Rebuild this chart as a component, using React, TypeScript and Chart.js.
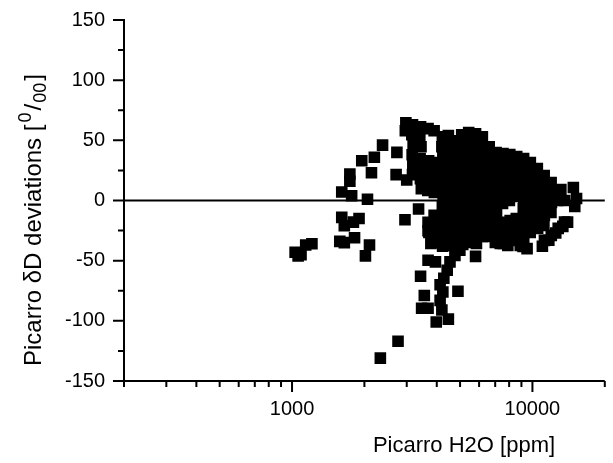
import React, { useEffect, useRef } from 'react';
import { Chart, registerables } from 'chart.js';

Chart.register(...registerables);

// Picarro H2O concentration [ppm]
const h2oPpm = [
  1030, 1060, 1090, 1140, 1210,
  1580, 1650, 1820, 2020, 2100,
  1610, 1650, 1800, 1900, 2950, 3360,
  1610, 1770, 1740, 1740, 2060, 1950, 2140, 2200, 2380,
  2730, 2710, 3000,
  2330, 2760,
  2975, 2960, 3170, 3150, 3190, 3160, 3180, 3170,
  3425, 3400, 3440, 3410, 3430, 3420, 3450,
  3680, 3700, 3660, 3690, 3670, 3680, 3710,
  3900, 3880, 3920, 3890, 3910, 3900, 3870, 3930,
  4220, 4200, 4240, 4210, 4230, 4190, 4250, 4220, 4200, 4240, 4210, 4230,
  4470, 4430, 4510, 4450, 4490, 4420, 4480, 4460, 4500, 4440, 4470, 4520,
  4760, 4720, 4800, 4740, 4780, 4730, 4790, 4750, 4770, 4710, 4760,
  5080, 5040, 5120, 5060, 5100, 5050, 5110, 5070, 5090, 5030, 5080, 5130,
  5430, 5390, 5470, 5410, 5450, 5400, 5460, 5420, 5440, 5380, 5430, 5480,
  5800, 5760, 5840, 5780, 5820, 5770, 5830, 5790, 5810, 5750, 5800, 5850, 5800,
  6190, 6150, 6230, 6170, 6210, 6160, 6220, 6180, 6200, 6140, 6190,
  6610, 6570, 6650, 6590, 6630, 6580, 6640, 6600, 6620, 6560,
  7060, 7020, 7100, 7040, 7080, 7030, 7090, 7050, 7070, 7010,
  7540, 7500, 7580, 7520, 7560, 7510, 7570, 7530, 7550,
  8050, 8010, 8090, 8030, 8070, 8020, 8080, 8040, 8060,
  8600, 8560, 8640, 8580, 8620, 8570, 8630, 8590,
  9190, 9150, 9230, 9170, 9210, 9160, 9220, 9180, 9200, 9140,
  9800, 9760, 9840, 9780, 9820, 9770, 9830, 9790,
  10480, 10440, 10520, 10460, 10500, 10450, 10510,
  11190, 11150, 11230, 11170, 11210, 11160, 11220,
  11960, 11920, 12000, 11940, 11980,
  12770, 12730, 12800, 13130, 13630, 13600,
  14800, 15000, 15260,
  11000, 11700, 12500, 13380, 14000,
  7350, 7900, 8900, 9500,
  3425, 3550, 3460, 3680, 3980, 4470, 4200, 4130, 4240, 4900, 4130,
  4280, 4420, 3680, 3950, 4540, 4760, 4990, 3780, 4020, 3680,
];

// Picarro deltaD deviations [permil]
const deltaDDeviation = [
  -43, -46, -45, -37, -36,
  -34, -35, -31, -46, -37,
  -14, -21, -18, -15, -16, -7,
  7, 4, 22, 16, 1, 33, 23, 36, 46,
  40, 21.5, 17,
  -131, -117,
  64.6, 58, 63, 54.7, 46.4, 38, 29.8, 21.5,
  61.3, 53, 44.7, 34.8, 26.5, 18.2, 9.9,
  59.7, 33, 24.9, 16.6, 8.3, -18.2, -26.5,
  58, 31.5, 23.2, 14.9, 6.6, -12.4, -20.7, -29,
  53, 44.7, 36.5, 28.2, 19.9, 11.6, 3.3, -5, -13.3, -21.5, -29.8, -38,
  53.9, 45.6, 37.3, 29, 20.7, 12.4, 4.1, -4.1, -12.4, -20.7, -29, -37.3,
  49.7, 41.4, 33.1, 24.9, 16.6, 8.3, 0, -8.3, -16.6, -24.9, -33.1,
  54.7, 46.4, 38.1, 29.8, 21.5, 13.3, 5, -3.3, -11.6, -19.9, -28.2, -36.5,
  56.4, 48.1, 39.8, 31.5, 23.2, 14.9, 6.6, -1.7, -9.9, -18.2, -26.5, -34.8,
  55.5, 47.2, 39, 30.7, 22.4, 14.1, 5.8, -2.5, -10.8, -19.1, -27.3, -35.6, -46.4,
  53, 44.7, 36.5, 28.2, 19.9, 11.6, 3.3, -5, -13.3, -21.5, -29.8,
  44.7, 36.5, 28.2, 19.9, 11.6, 3.3, -5, -13.3, -21.5, -29.8,
  39.8, 31.5, 23.2, 14.9, 6.6, -1.7, -9.9, -18.2, -26.5, -34.8,
  39, 30.7, 22.4, 14.1, 5.8, -2.5, -18.2, -26.5, -35.6,
  38.1, 29.8, 21.5, 13.3, 5, 0, -16.6, -24.9, -33.1,
  36.5, 28.2, 19.9, 11.6, 3.3, -14.9, -23.2, -31.5,
  34.8, 26.5, 18.2, 9.9, 1.7, -6.6, -14.9, -23.2, -31.5, -38.1,
  31.5, 23.2, 14.9, 6.6, -1.7, -9.9, -18.2, -26.5,
  26.5, 18.2, 9.9, 1.7, -6.6, -14.9, -23.2,
  20.7, 12.4, 4.1, -4.1, -12.4, -20.7, -33.1,
  14.9, 6.6, -1.7, -9.9, -29,
  8.3, 0, -23.2, 9, 0, -18,
  10.8, -5, 1.7,
  -38, -33, -27, -21.5, -18,
  -35.6, -37.3, -37.3, -40,
  -63, -79, -89.5, -89.5, -101, -98.6, -91, -83, -76, -75.4, -70,
  -64.6, -58, -49.7, -51, -51, -45.6, -41.4, -35.6, -35, -25,
];

const xTickValues = [200, 300, 400, 500, 600, 700, 800, 900, 1000, 2000, 3000, 4000, 5000, 6000, 7000, 8000, 9000, 10000, 20000];
const xLabelValues = [1000, 10000];
const yMin = -150;
const yMax = 150;
const yMajorStep = 50;
const yMinorStep = 25;
const xAxisTitle = 'Picarro H2O [ppm]';
const yTitleMain = 'Picarro δD deviations [';
const yTitleSup = '0';
const yTitleSlash = '/';
const yTitleSub = '00';
const yTitleClose = ']';

const FONT = '"Liberation Sans", Arial, Helvetica, sans-serif';

export default function App() {
  const ref = useRef<HTMLCanvasElement>(null);

  useEffect(() => {
    document.body.style.margin = '0';
    const canvas = ref.current;
    if (!canvas) return;
    const points = h2oPpm.map((x, i) => ({ x, y: deltaDDeviation[i] }));

    const decor = {
      id: 'originDecor',
      beforeDatasetsDraw(chart: any) {
        const { ctx, chartArea, scales } = chart;
        const y0 = scales.y.getPixelForValue(0);
        ctx.save();
        ctx.strokeStyle = '#000';
        ctx.lineWidth = 2;
        ctx.beginPath();
        ctx.moveTo(chartArea.left, y0);
        ctx.lineTo(chartArea.right, y0);
        ctx.stroke();
        ctx.restore();
      },
      afterDraw(chart: any) {
        const { ctx, chartArea, scales } = chart;
        const { left, right, top, bottom } = chartArea;
        const xs = scales.x;
        const ys = scales.y;
        ctx.save();
        ctx.strokeStyle = '#000';
        ctx.lineWidth = 2;
        ctx.lineCap = 'butt';
        ctx.beginPath();
        ctx.moveTo(left, top - 1);
        ctx.lineTo(left, bottom + 1);
        ctx.moveTo(left - 1, bottom);
        ctx.lineTo(right, bottom);
        ctx.stroke();

        ctx.beginPath();
        for (let v = yMin; v <= yMax; v += yMinorStep) {
          const py = ys.getPixelForValue(v);
          const len = Math.abs(v % yMajorStep) === 0 ? 11 : 6;
          ctx.moveTo(left - len, py);
          ctx.lineTo(left, py);
        }
        for (const v of xTickValues) {
          const px = xs.getPixelForValue(v);
          const len = xLabelValues.includes(v) ? 11 : 6;
          ctx.moveTo(px, bottom);
          ctx.lineTo(px, bottom + len);
        }
        ctx.stroke();

        // x axis title
        ctx.fillStyle = '#000';
        ctx.font = `22px ${FONT}`;
        ctx.textAlign = 'center';
        ctx.textBaseline = 'alphabetic';
        ctx.fillText(xAxisTitle, 464, 452);

        // y axis title (rotated, with super/subscript), read bottom-to-top
        const big = `24px ${FONT}`;
        const small = `18px ${FONT}`;
        const parts = [
          { t: yTitleMain, f: big, dy: 0, pad: 0 },
          { t: yTitleSup, f: small, dy: -10, pad: 2 },
          { t: yTitleSlash, f: big, dy: 0, pad: 2 },
          { t: yTitleSub, f: small, dy: 5, pad: 1 },
          { t: yTitleClose, f: big, dy: 0, pad: 2 },
        ];
        ctx.translate(32, 366);
        ctx.rotate(-Math.PI / 2);
        ctx.textAlign = 'left';
        let cx = 0;
        for (const p of parts) {
          ctx.font = p.f;
          cx += p.pad;
          ctx.fillText(p.t, cx, 8.5 + p.dy);
          cx += ctx.measureText(p.t).width;
        }
        ctx.restore();
      },
    };

    const chart = new Chart(canvas, {
      type: 'scatter',
      data: {
        datasets: [
          {
            data: points,
            pointStyle: 'rect',
            pointRadius: 8.2,
            pointHoverRadius: 8.2,
            backgroundColor: '#000',
            borderWidth: 0,
          },
        ],
      },
      options: {
        animation: false,
        responsive: false,
        events: [],
        layout: { padding: { top: 19, right: 1, left: 0, bottom: 0 } },
        plugins: {
          legend: { display: false },
          tooltip: { enabled: false },
          title: { display: false },
        },
        scales: {
          x: {
            type: 'logarithmic',
            min: 200,
            max: 20000,
            border: { display: false },
            grid: { display: false, drawTicks: true, tickLength: 11 },
            afterBuildTicks: (scale: any) => {
              scale.ticks = xTickValues.map((v) => ({ value: v }));
            },
            afterFit: (scale: any) => {
              scale.height = 82;
            },
            ticks: {
              autoSkip: false,
              maxRotation: 0,
              minRotation: 0,
              padding: 5,
              color: '#000',
              font: { family: FONT, size: 20 },
              callback: (v: any) => (xLabelValues.includes(Number(v)) ? String(v) : ''),
            },
          },
          y: {
            type: 'linear',
            min: yMin,
            max: yMax,
            border: { display: false },
            grid: { display: false, drawTicks: true, tickLength: 11 },
            afterFit: (scale: any) => {
              scale.width = 124;
            },
            ticks: {
              stepSize: yMinorStep,
              autoSkip: false,
              padding: 8,
              color: '#000',
              font: { family: FONT, size: 20 },
              callback: (v: any) => (Math.abs(Number(v) % yMajorStep) === 0 ? String(v) : ''),
            },
          },
        },
      },
      plugins: [decor],
    });

    return () => chart.destroy();
  }, []);

  return (
    <div style={{ width: 613, height: 463 }}>
      <canvas ref={ref} width={613} height={463} style={{ display: 'block' }} />
    </div>
  );
}
